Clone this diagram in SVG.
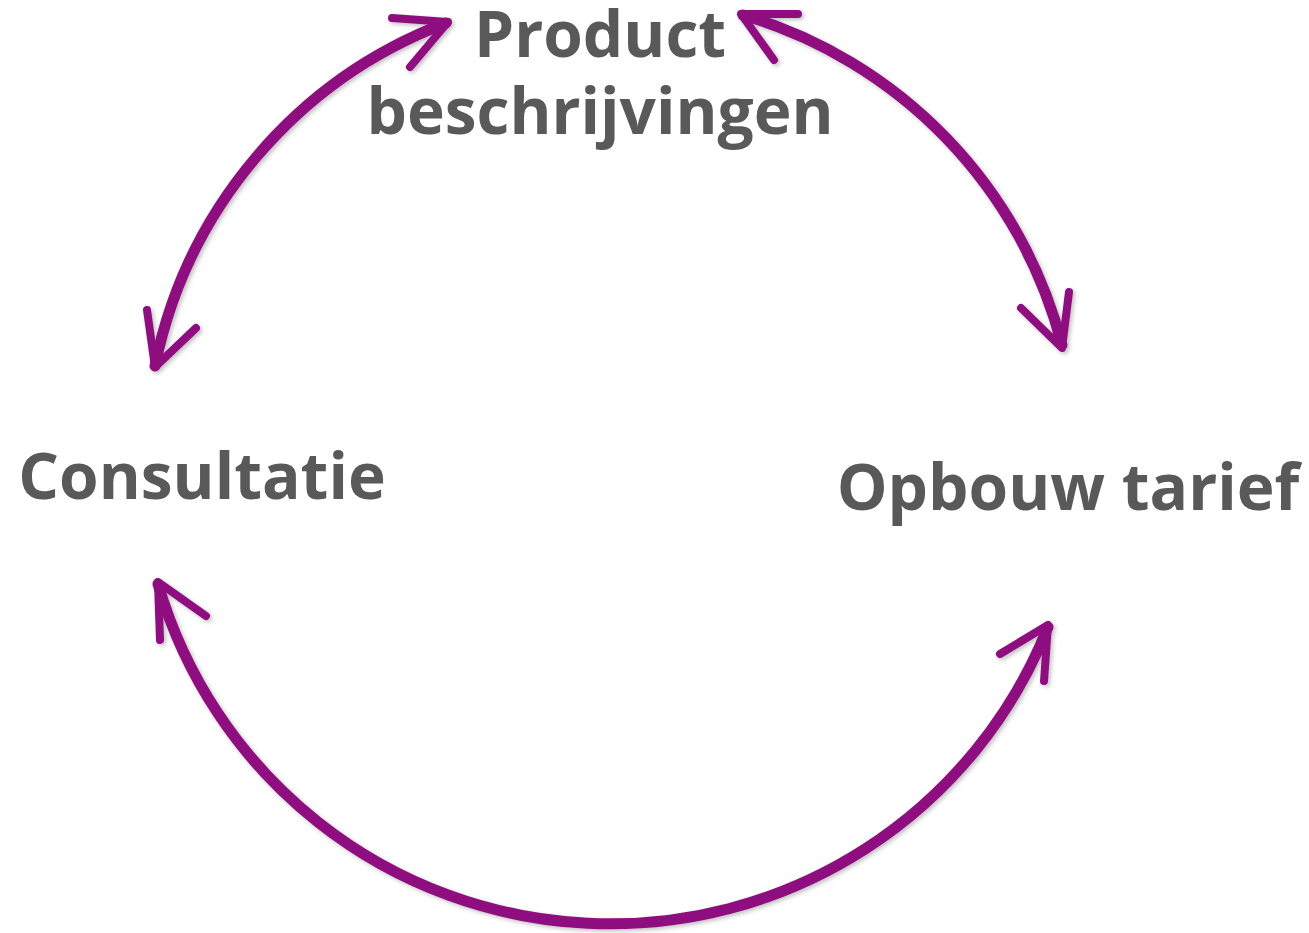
<svg xmlns="http://www.w3.org/2000/svg" width="1309" height="933" viewBox="0 0 1309 933">
  <defs>
    <filter id="shadow" x="-10%" y="-10%" width="120%" height="120%">
      <feDropShadow dx="2" dy="2" stdDeviation="2" flood-color="#000" flood-opacity="0.25"/>
    </filter>
  </defs>
  <style>
    .label { font-family: "Open Sans", "Liberation Sans", sans-serif; font-weight: bold; font-size: 64px; fill: #595959; text-anchor: middle; }
    .arc { fill: none; stroke: #8e117f; stroke-width: 11; stroke-linecap: round; }
    .head { fill: none; stroke: #8e117f; stroke-width: 8; stroke-linecap: round; stroke-linejoin: round; }
  </style>
  <rect width="1309" height="933" fill="#ffffff"/>
  <g id="connectors" filter="url(#shadow)">
    <g id="edge-product-consultatie">
      <path class="arc" d="M155,366 A465,465 0 0 1 446,23"/>
      <path class="head" d="M392,18 L448,22 L410,67"/>
      <path class="head" d="M147,310 L155,367 L196,328"/>
    </g>
    <g id="edge-product-opbouw">
      <path class="arc" d="M743,15 A465,465 0 0 1 1062,345"/>
      <path class="head" d="M798,14 L741,14 L774,60"/>
      <path class="head" d="M1069,292 L1062,348 L1021,308"/>
    </g>
    <g id="edge-consultatie-opbouw">
      <path class="arc" d="M158,584 A471,471 0 0 0 1048,627"/>
      <path class="head" d="M160,640 L158,582 L206,616"/>
      <path class="head" d="M1000,654 L1048,625 L1044,681"/>
    </g>
  </g>
  <g id="node-product">
    <text class="label" x="600" y="57">Product</text>
    <text class="label" x="600" y="134">beschrijvingen</text>
  </g>
  <g id="node-consultatie">
    <text class="label" x="202" y="499">Consultatie</text>
  </g>
  <g id="node-opbouw">
    <text class="label" x="1068" y="510">Opbouw tarief</text>
  </g>
</svg>
